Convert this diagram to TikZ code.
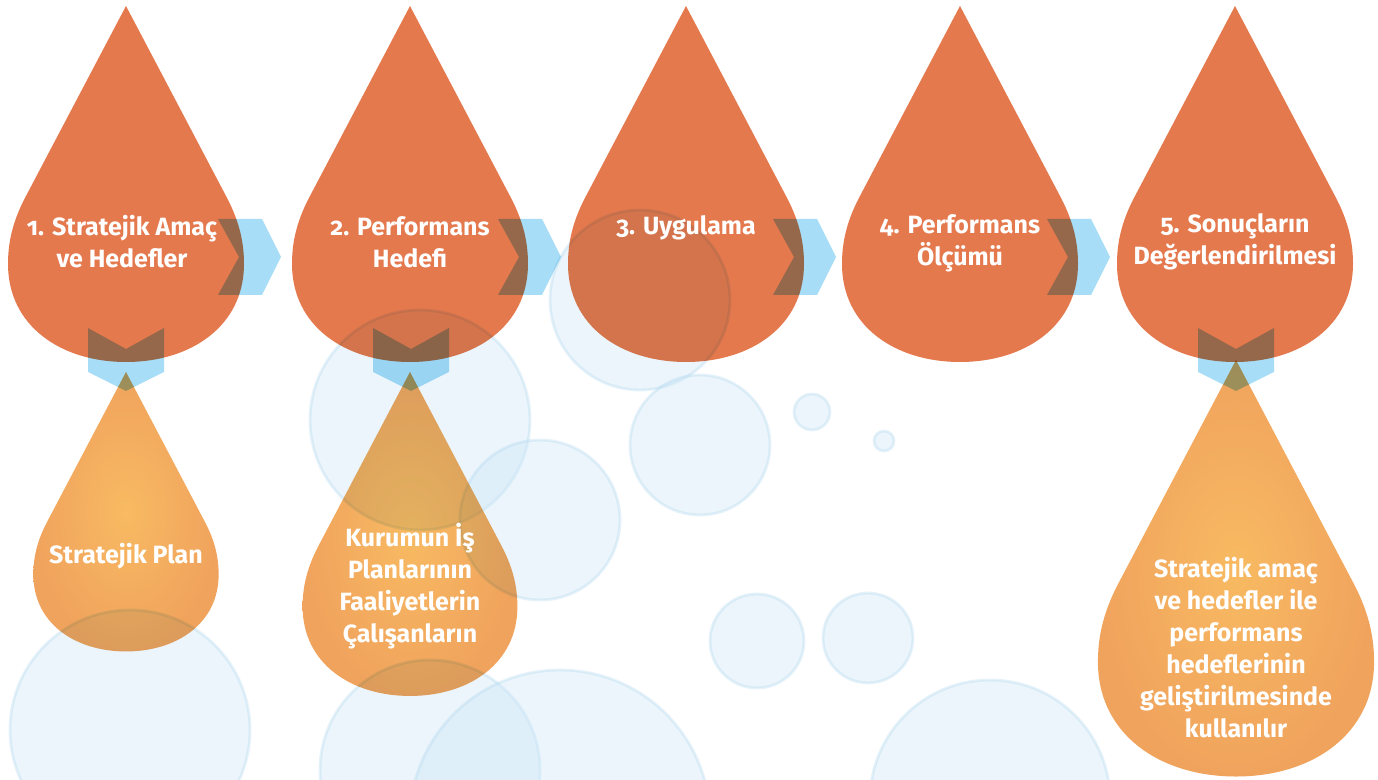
\documentclass[tikz,border=0pt]{standalone}
\usepackage{fontspec}
\setmainfont{Fira Sans}[Numbers=OldStyle]
\usepackage{xcolor}
\usepackage{tikz}
\usetikzlibrary{calc}

\definecolor{dropA}{RGB}{229,121,78}
\definecolor{dropB}{RGB}{248,186,98}
\definecolor{dropBe}{RGB}{240,163,93}
\definecolor{chevcol}{RGB}{167,221,246}
\definecolor{bubcol}{RGB}{205,231,247}
\definecolor{bubedge}{RGB}{170,212,238}

\begin{document}
\begin{tikzpicture}[
    x=0.01cm, y=-0.01cm,
    pics/drop/.style={code={\path[pic actions, scale=#1] (0,0) -- (100,190) .. controls (115,218) and (118,240) .. (118,258)
        .. controls (118,320) and (65,356) .. (0,356) .. controls (-65,356) and (-118,320) .. (-118,258)
        .. controls (-118,240) and (-115,218) .. (-100,190) -- cycle;}},
    pics/drop/.default=1,
    pics/chevr/.style={code={\path[pic actions] (0,-38) -- (44,-38) -- (63,0) -- (44,38) -- (0,38) -- (21,0) -- cycle;}},
    pics/chevd/.style={code={\path[pic actions] (-38,0) -- (0,21) -- (38,0) -- (38,44) -- (0,63) -- (-38,44) -- cycle;}},
    drop1/.style={fill=dropA},
    drop2/.style={inner color=dropB, outer color=dropBe},
    chev/.style={fill=chevcol},
    bubble/.style={fill=bubcol, fill opacity=0.4, draw=bubedge, draw opacity=0.3, line width=0.8pt},
    txt/.style={text=white, font=\bfseries\fontsize{7.1}{9.1}\selectfont, align=center, inner sep=0pt}
]
    \fill [white] (0,0) rectangle (1378,780);
    \useasboundingbox (0,0) rectangle (1378,780);

    % background bubbles
    \foreach \bx/\by/\br in {420/420/110, 640/300/90, 700/445/70, 812/412/18, 884/441/10,
        757/641/47, 868/638/45, 990/800/120, 130/730/120, 430/770/110, 560/820/150, 540/520/80}
        \path [bubble] (\bx,\by) circle (\br);

    \begin{scope}[blend mode=multiply]
        % top row
        \foreach \cx in {126,410,686,960,1235}
            \pic [drop1] at (\cx,6) {drop};
        % lower drops
        \pic [drop2] at (126,372) {drop=0.785};
        \pic [drop2] at (410,372) {drop=0.91};
        \pic [drop2] at (1236,360) {drop=1.17};
        % chevrons
        \foreach \lx in {218,498,773,1047}
            \pic [chev] at (\lx,257) {chevr};
        \foreach \cx in {126,411,1236}
            \pic [chev] at (\cx,328) {chevd};
    \end{scope}

    \node [txt] (n1) at (122,242) {1. Stratejik Amaç\\ve Hedefler};
    \node [txt] (n2) at (410,242) {2. Performans\\Hedefi};
    \node [txt] (n3) at (686,228) {3. Uygulama};
    \node [txt] (n4) at (960,243) {4. Performans\\Ölçümü};
    \node [txt] (n5) at (1235,242) {5. Sonuçların\\Değerlendirilmesi};

    \node [txt] (m1) at (126,556) {Stratejik Plan};
    \node [txt] (m2) at (410,586) {Kurumun İş\\Planlarının\\Faaliyetlerin\\Çalışanların};
    \node [txt] (m5) at (1236,648) {Stratejik amaç\\ve hedefler ile\\performans\\hedeflerinin\\geliştirilmesinde\\kullanılır};
\end{tikzpicture}
\end{document}
